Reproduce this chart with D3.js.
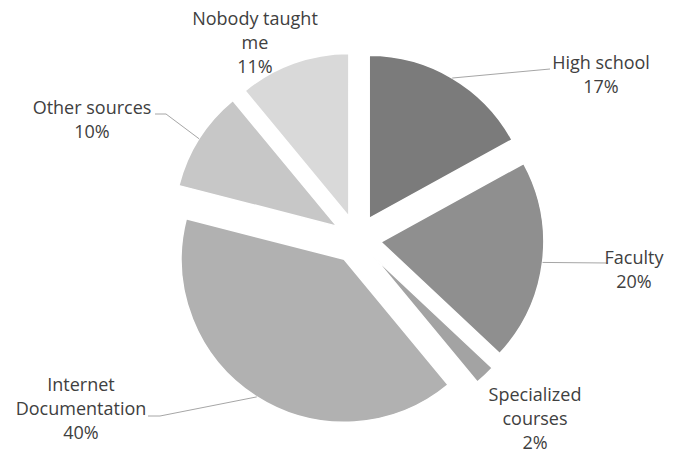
<!DOCTYPE html>
<html>
<head>
<meta charset="utf-8">
<script src="https://cdn.jsdelivr.net/npm/d3@7/dist/d3.min.js"></script>
<style>
  html, body { margin: 0; padding: 0; background: #ffffff; }
  svg { display: block; }
</style>
</head>
<body>
<svg id="chart" width="673" height="454"></svg>
<script>
// ---- data ----
const categories = ["High school", "Faculty", "Specialized courses", "Internet Documentation", "Other sources", "Nobody taught me"];
const values = [17, 20, 2, 40, 10, 11];
const labelLines = [["High school"], ["Faculty"], ["Specialized", "courses"], ["Internet", "Documentation"], ["Other sources"], ["Nobody taught", "me"]];
const colors = ["#7b7b7b", "#8f8f8f", "#a3a3a3", "#b1b1b1", "#c7c7c7", "#d9d9d9"];

// ---- layout ----
const cx = 357, cy = 239, R = 163, explode = 24;
const fontSize = 18, lineH = 24;
// label centre x and first-line centre y
const labelPos = [[601, 63], [634, 258], [535, 395], [81, 385], [92, 108], [255, 19]];
// leader lines: [label end point, elbow point] (slice end computed)
const leaders = [
  [[550, 69], [550, 69]],
  [[608, 263], [608, 263]],
  null,
  [[148, 416], [160, 416]],
  [[155, 114], [166, 114]],
  null
];

const svg = d3.select("#chart");
const pie = d3.pie().sort(null).value(d => d).startAngle(0).endAngle(2 * Math.PI);
const arcs = pie(values);
const arc = d3.arc().innerRadius(0).outerRadius(R);

const g = svg.append("g").attr("transform", `translate(${cx},${cy})`);

arcs.forEach((a, i) => {
  const mid = (a.startAngle + a.endAngle) / 2;
  a.dx = explode * Math.sin(mid);
  a.dy = -explode * Math.cos(mid);
});

g.selectAll("path.slice")
  .data(arcs)
  .join("path")
  .attr("class", "slice")
  .attr("transform", d => `translate(${d.dx},${d.dy})`)
  .attr("d", arc)
  .attr("fill", (d, i) => colors[i])
  .attr("stroke", "#ffffff")
  .attr("stroke-width", 1.5)
  .attr("stroke-linejoin", "round");

// leader lines
arcs.forEach((a, i) => {
  const L = leaders[i];
  if (!L) return;
  const mid = (a.startAngle + a.endAngle) / 2;
  const ex = cx + a.dx + R * Math.sin(mid);
  const ey = cy + a.dy - R * Math.cos(mid);
  svg.append("polyline")
    .attr("points", [L[0], L[1], [ex, ey]].map(p => p.join(",")).join(" "))
    .attr("fill", "none")
    .attr("stroke", "#a6a6a6")
    .attr("stroke-width", 1);
});

// labels
const font = "'Open Sans', Lato, sans-serif";
arcs.forEach((a, i) => {
  const lines = labelLines[i].concat([values[i] + "%"]);
  const [lx, ly] = labelPos[i];
  const t = svg.append("text")
    .attr("text-anchor", "middle")
    .attr("font-family", font)
    .attr("font-size", fontSize)
    .attr("fill", "#404040");
  lines.forEach((s, k) => {
    t.append("tspan")
      .attr("x", lx)
      .attr("y", ly + k * lineH)
      .attr("dy", "0.35em")
      .text(s);
  });
});
</script>
</body>
</html>
